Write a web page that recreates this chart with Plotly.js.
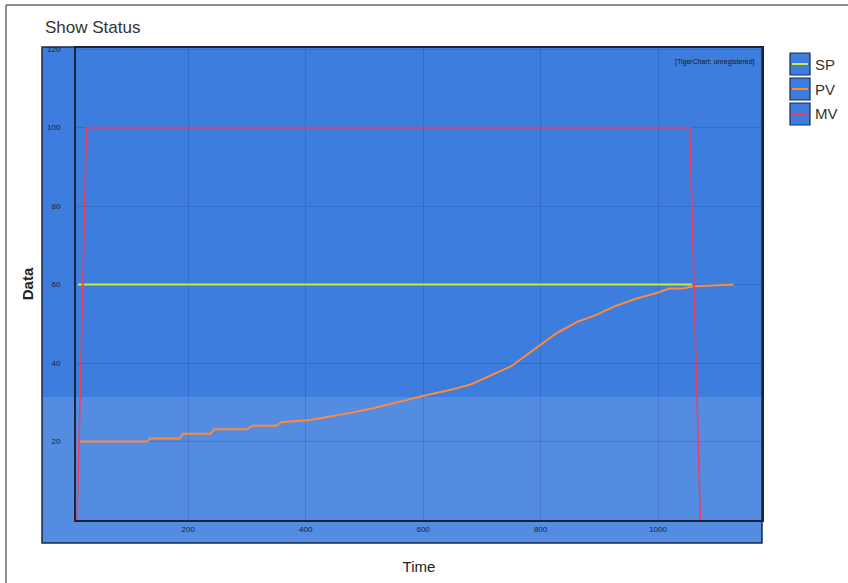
<!DOCTYPE html>
<html>
<head>
<meta charset="utf-8">
<script src="https://cdn.plot.ly/plotly-3.0.1.min.js"></script>
<style>html,body{margin:0;padding:0;background:#fff;}#chart{width:848px;height:583px;}</style>
</head>
<body>
<div id="chart"></div>
<script>
// ---- data ----
const seriesNames = ["SP", "PV", "MV"];
const seriesColors = ["#c9ea3c", "#ff8a3a", "#f23c62"];

const spTime = [12, 1058];
const spValue = [60, 60];

const pvTime = [12, 130, 135, 185, 191, 238, 244, 300, 309, 350, 358, 408, 476, 513, 559, 605, 651, 682, 750, 787, 826, 864, 894, 925, 962, 996, 1019, 1042, 1061, 1129];
const pvValue = [20, 20, 20.8, 20.8, 22, 22, 23.1, 23.1, 24, 24, 24.9, 25.5, 27.3, 28.4, 30.1, 31.8, 33.3, 34.6, 39.2, 43.3, 47.5, 50.6, 52.2, 54.4, 56.4, 57.8, 59, 59, 59.6, 60];

const mvTime = [11, 25, 27, 1054, 1072];
const mvValue = [0, 90, 100, 100, 0];

const xTicks = [200, 400, 600, 800, 1000];
const yTicks = [20, 40, 60, 80, 100, 120];

// ---- geometry helpers (pixel -> paper) ----
const W = 848, H = 583, L = 76, R = 762, T = 48, B = 520;
const px = x => (x - L) / (R - L);
const py = y => (B - y) / (B - T);

const traces = [
  {x: spTime, y: spValue, name: seriesNames[0], mode: "lines", line: {color: seriesColors[0], width: 2}},
  {x: pvTime, y: pvValue, name: seriesNames[1], mode: "lines", line: {color: seriesColors[1], width: 2}},
  {x: mvTime, y: mvValue, name: seriesNames[2], mode: "lines", line: {color: seriesColors[2], width: 1.6}}
];

const shapes = [
  // outer grey frame
  {type: "line", xref: "paper", yref: "paper", x0: px(6), x1: px(848), y0: py(5), y1: py(5), line: {color: "#6a6a6a", width: 1.5}, layer: "below"},
  {type: "line", xref: "paper", yref: "paper", x0: px(6), x1: px(6), y0: py(5), y1: py(583), line: {color: "#6a6a6a", width: 1.5}, layer: "below"},
  // blue chart panel
  {type: "rect", xref: "paper", yref: "paper", x0: px(42), x1: px(762), y0: py(543), y1: py(47), fillcolor: "#3c7ddd", line: {color: "#1d2b4a", width: 1.5}, layer: "below"},
  // lighter lower band (scan)
  {type: "rect", xref: "paper", yref: "paper", x0: px(43), x1: px(761), y0: py(542), y1: py(397), fillcolor: "rgba(255,255,255,0.12)", line: {width: 0}, layer: "below"}
];
const annotations = [
  {xref: "paper", yref: "paper", x: px(757), y: py(62), xanchor: "right", yanchor: "middle", text: "[TigerChart: unregistered]", showarrow: false, font: {family: "Liberation Sans Narrow, Liberation Sans, Arial", size: 7, color: "#1a1a1a"}}
];
// legend boxes
seriesNames.forEach((n, i) => {
  const top = 53 + i * 25;
  shapes.push({type: "rect", xref: "paper", yref: "paper", x0: px(790), x1: px(810), y0: py(top + 22), y1: py(top), fillcolor: "#3c7ddd", line: {color: "#1d2b4a", width: 1.2}});
  shapes.push({type: "line", xref: "paper", yref: "paper", x0: px(792), x1: px(808), y0: py(top + 11), y1: py(top + 11), line: {color: seriesColors[i], width: 2}});
  annotations.push({xref: "paper", yref: "paper", x: px(813), y: py(top + 11), xanchor: "left", yanchor: "middle", text: n, showarrow: false, font: {family: "Liberation Sans, Arial", size: 15, color: "#333"}});
});

const layout = {
  width: W, height: H,
  margin: {l: L, r: W - R, t: T, b: H - B},
  paper_bgcolor: "#ffffff",
  plot_bgcolor: "rgba(0,0,0,0)",
  showlegend: false,
  title: {text: "Show Status", xref: "container", x: 45 / W, xanchor: "left", yref: "container", y: 1 - 27 / H, yanchor: "middle", font: {family: "Liberation Sans, Arial", size: 17, color: "#333"}},
  xaxis: {
    range: [9, 1177], tickvals: xTicks, ticktext: xTicks.map(String),
    showgrid: true, gridcolor: "rgba(30,60,130,0.22)", gridwidth: 1,
    zeroline: false, showline: true, mirror: true, linecolor: "#1d2438", linewidth: 2,
    ticks: "", tickfont: {family: "Liberation Sans Narrow, Liberation Sans, Arial", size: 8, color: "#1a2240"},
    title: {text: "Time", standoff: 29, font: {family: "Liberation Sans, Arial", size: 15, color: "#222"}}
  },
  yaxis: {
    range: [0, 120.3], tickvals: yTicks, ticktext: yTicks.map(String),
    showgrid: true, gridcolor: "rgba(30,60,130,0.22)", gridwidth: 1,
    zeroline: false, showline: true, mirror: true, linecolor: "#1d2438", linewidth: 2,
    ticks: "", ticklabelstandoff: 12, tickfont: {family: "Liberation Sans Narrow, Liberation Sans, Arial", size: 8, color: "#1a2240"},
    title: {text: "<b>Data</b>", standoff: 10, font: {family: "Liberation Sans, Arial", size: 15, color: "#222"}}
  },
  shapes: shapes,
  annotations: annotations
};

Plotly.newPlot("chart", traces, layout, {displayModeBar: false, staticPlot: true});
</script>
</body>
</html>
